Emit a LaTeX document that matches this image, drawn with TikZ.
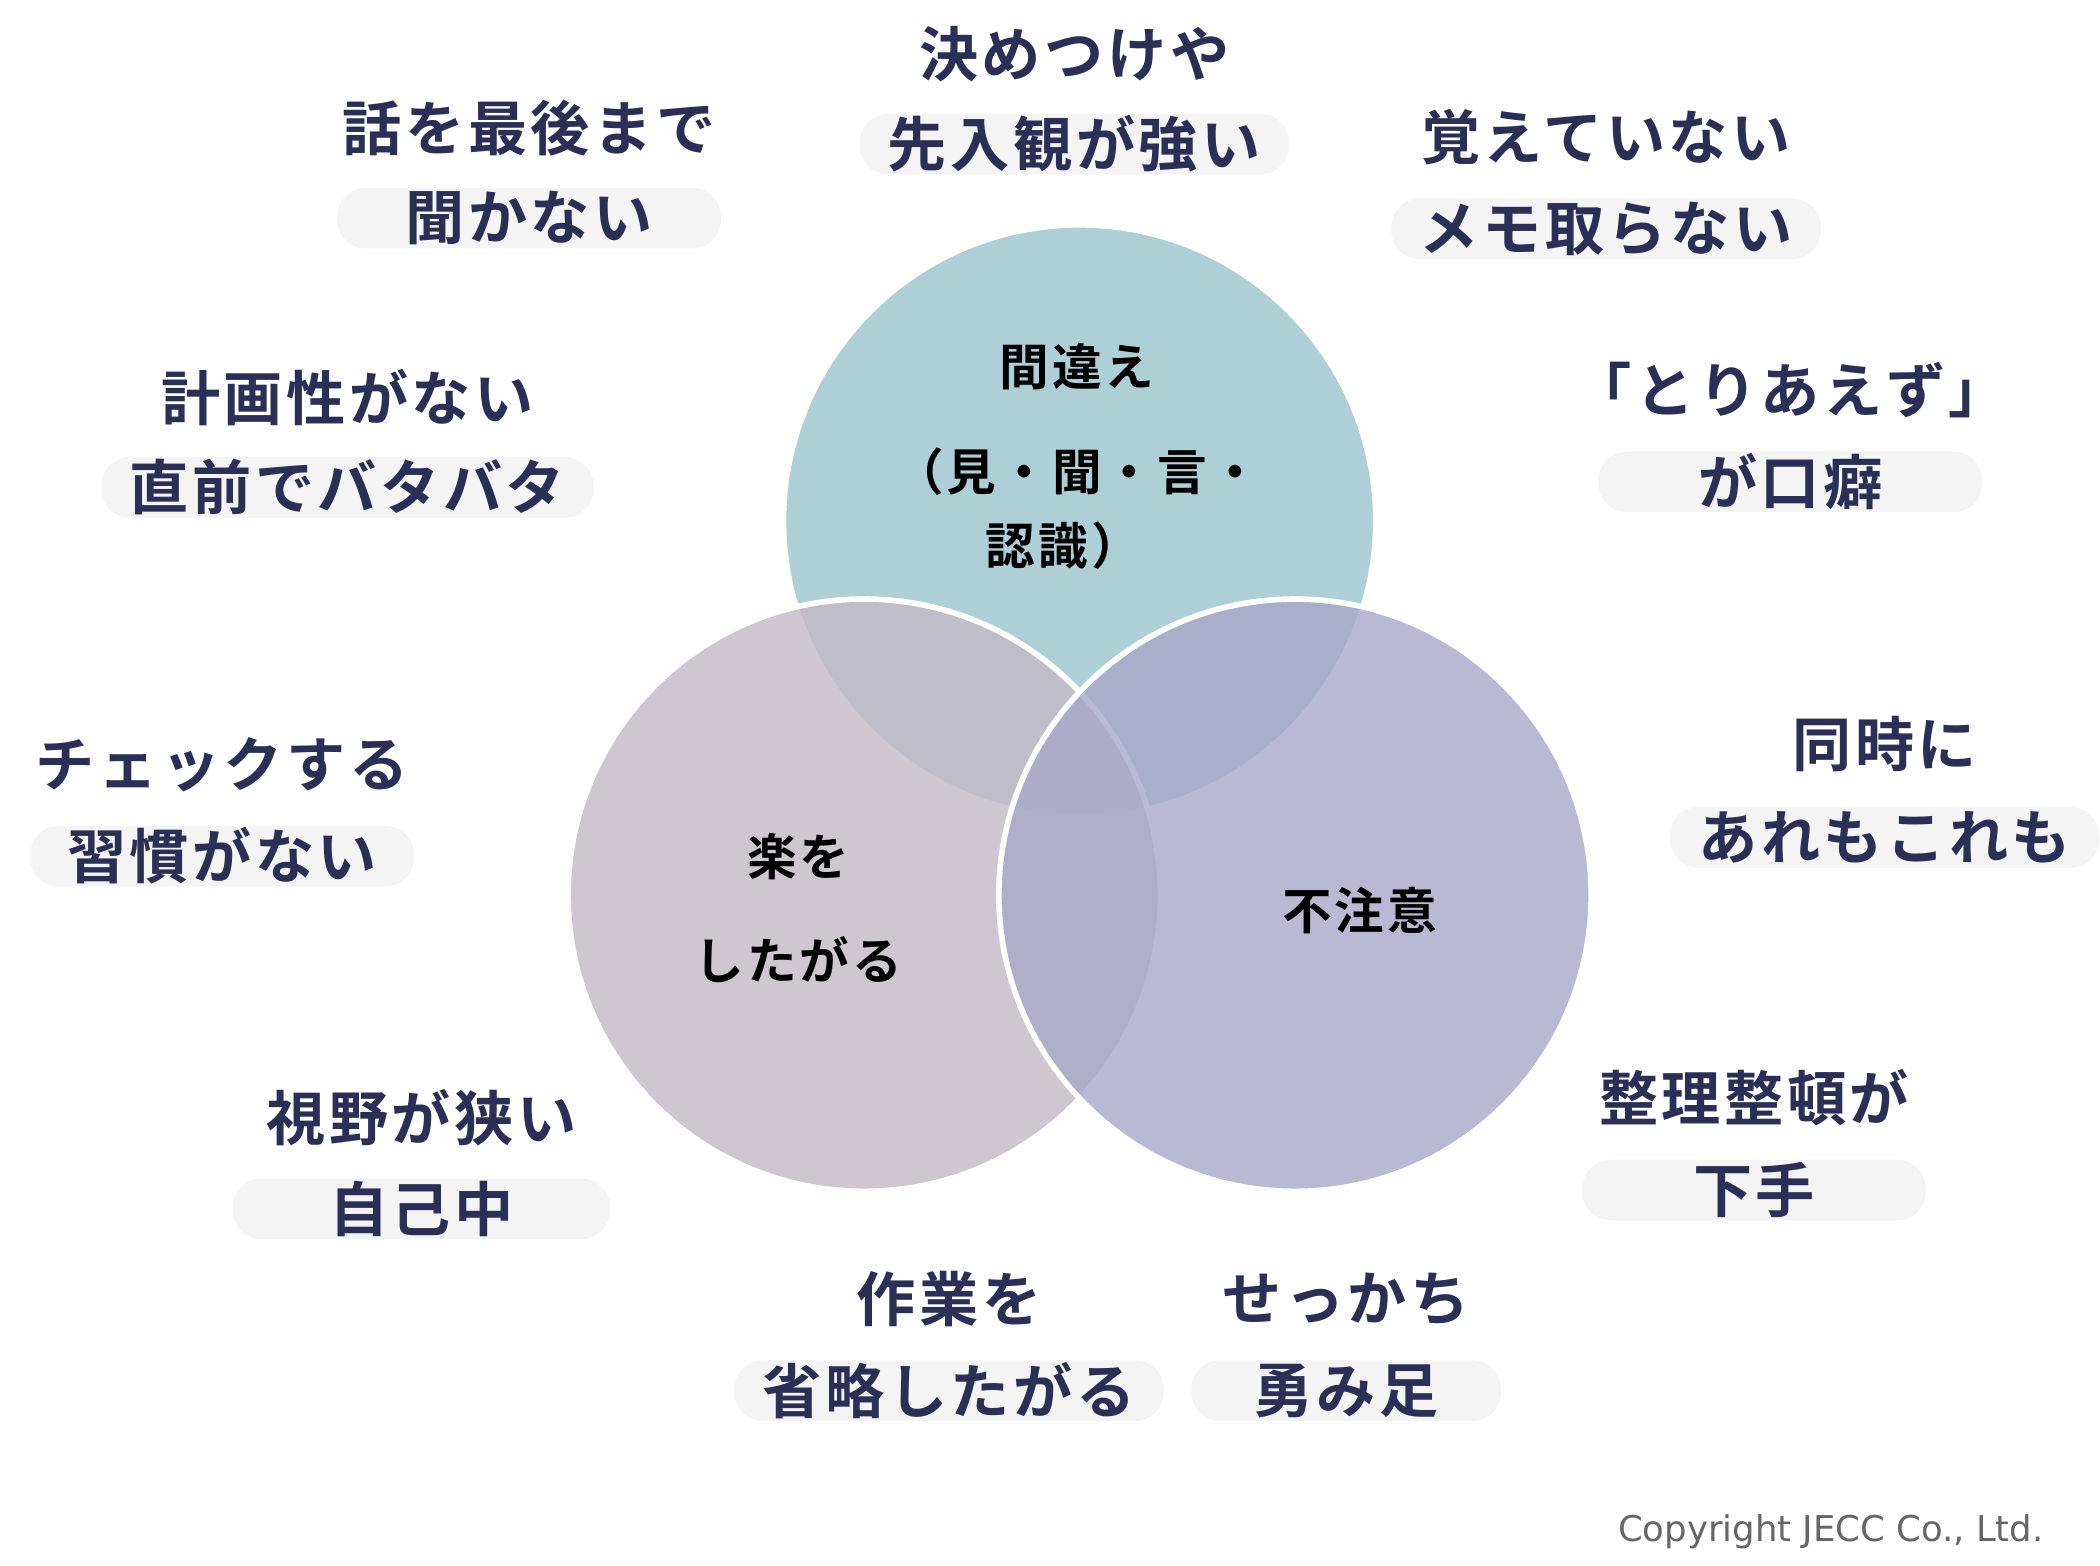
\documentclass[tikz,border=0pt]{standalone}
\usepackage{fontspec}
\setsansfont{DejaVu Sans}
\newfontfamily\jp{Noto Sans CJK JP Bold}[LetterSpace=6]
\usepackage{xcolor}
\definecolor{ink}{HTML}{2B2E55}
\definecolor{top}{HTML}{9CC4CC}
\definecolor{lft}{HTML}{C4BAC5}
\definecolor{rgt}{HTML}{A8A8C8}
\tikzset{word/.style={text=ink,font=\jp\fontsize{12.5}{14}\selectfont,inner sep=0pt}}
\tikzset{tag/.style={word,fill=gray!9,rounded corners=6pt,minimum height=0.45cm,inner xsep=6pt}}
\tikzset{inner/.style={text=black,font=\jp\fontsize{10.5}{12}\selectfont,inner sep=0pt}}
\tikzset{ring/.style={draw=white,line width=1.2pt,fill opacity=0.8}}

\begin{document}
\begin{tikzpicture}[y=-1cm]
    \useasboundingbox (0,0) rectangle (15.6,11.63);
    \fill[white] (0,0) rectangle (15.6,11.63);

    \filldraw[ring,fill=top] (8.02,3.87) circle (2.2);
    \filldraw[ring,fill=lft] (6.42,6.65) circle (2.2);
    \filldraw[ring,fill=rgt] (9.62,6.65) circle (2.2);

    \node[inner] (c1) at (8.00,2.72) {間違え};
    \node[inner] (c2) at (8.00,3.50) {（見・聞・言・};
    \node[inner] (c3) at (7.90,4.05) {認識）};
    \node[inner] (c4) at (5.93,6.36) {楽を};
    \node[inner] (c5) at (5.93,7.13) {したがる};
    \node[inner] (c6) at (10.10,6.76) {不注意};

    \node[tag,minimum width=2.85cm] (t1b) at (7.98,1.07) {先入観が強い};
    \node[word] (t1) at (7.98,0.40) {決めつけや};
    \node[tag,minimum width=2.85cm] (t2b) at (3.93,1.62) {聞かない};
    \node[word] (t2) at (3.93,0.95) {話を最後まで};
    \node[tag,minimum width=2.65cm] (t3b) at (11.93,1.70) {メモ取らない};
    \node[word] (t3) at (11.93,1.02) {覚えていない};
    \node[tag,minimum width=3.15cm] (t4b) at (2.58,3.62) {直前でバタバタ};
    \node[word] (t4) at (2.58,2.95) {計画性がない};
    \node[tag,minimum width=2.85cm] (t5b) at (13.30,3.58) {が口癖};
    \node[word] (t5) at (13.30,2.90) {「とりあえず」};
    \node[tag,minimum width=2.85cm] (t6b) at (1.65,6.36) {習慣がない};
    \node[word] (t6) at (1.65,5.68) {チェックする};
    \node[tag,minimum width=2.85cm] (t7b) at (14.00,6.22) {あれもこれも};
    \node[word] (t7) at (14.00,5.53) {同時に};
    \node[tag,minimum width=2.80cm] (t8b) at (3.13,8.98) {自己中};
    \node[word] (t8) at (3.13,8.30) {視野が狭い};
    \node[tag,minimum width=2.55cm] (t9b) at (13.03,8.84) {下手};
    \node[word] (t9) at (13.03,8.15) {整理整頓が};
    \node[tag,minimum width=2.85cm] (t10b) at (7.05,10.33) {省略したがる};
    \node[word] (t10) at (7.05,9.65) {作業を};
    \node[tag,minimum width=2.30cm] (t11b) at (10.00,10.33) {勇み足};
    \node[word] (t11) at (10.00,9.65) {せっかち};

    \node[text=gray!80!black,font=\sffamily\fontsize{7.5}{9}\selectfont] (copy) at (13.60,11.38) {Copyright JECC Co., Ltd.};
\end{tikzpicture}
\end{document}
